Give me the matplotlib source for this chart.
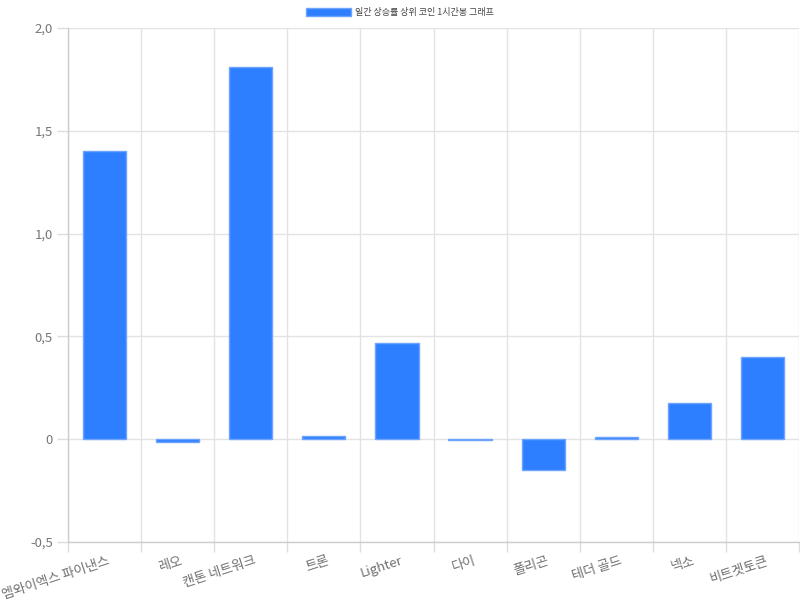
import matplotlib
matplotlib.use("Agg")
import matplotlib.pyplot as plt
from matplotlib.ticker import FuncFormatter, FixedLocator
import matplotlib.transforms as mtrans
import numpy as np

plt.rcParams['font.family'] = ['Noto Sans CJK KR', 'DejaVu Sans']

categories = ["엠와이엑스 파이낸스", "레오", "캔톤 네트워크", "트론", "Lighter",
              "다이", "폴리곤", "테더 골드", "넥소", "비트겟토큰"]
values = [1.40, -0.015, 1.81, 0.015, 0.47, -0.005, -0.15, 0.01, 0.175, 0.40]
legend_label = "일간 상승률 상위 코인 1시간봉 그래프"
y_ticks = [-0.5, 0, 0.5, 1.0, 1.5, 2.0]

fig = plt.figure(figsize=(8, 6), dpi=100)
ax = fig.add_axes([68/800, 58/600, 731/800, 514/600])

x = np.arange(len(categories))
bars = ax.bar(x, values, width=0.59, color="#2d7fff", edgecolor="#6ea3ff",
              linewidth=1.0, label=legend_label, zorder=3)

ax.set_xlim(-0.5, len(categories) - 0.5)
ax.set_ylim(-0.5, 2.0)

ax.yaxis.set_major_locator(FixedLocator(y_ticks))
def fmt(v, pos):
    if abs(v) < 1e-9:
        return "0"
    return f"{v:.1f}".replace(".", ",")
ax.yaxis.set_major_formatter(FuncFormatter(fmt))

bounds = np.arange(-0.5, len(categories), 1.0)
ax.xaxis.set_minor_locator(FixedLocator(bounds))
ax.set_xticks(x)
ax.set_xticklabels(categories, rotation=18, ha="right", va="top",
                   rotation_mode="anchor", fontweight="light")
ax.tick_params(axis="x", which="major", length=0, pad=9, labelsize=9.5,
               labelcolor="#707070")
ax.tick_params(axis="x", which="minor", length=7, color="#dddddd", width=1)
ax.tick_params(axis="y", length=8, color="#dddddd", width=1, labelsize=9.5,
               labelcolor="#777777", pad=3)
for lab in ax.get_yticklabels():
    lab.set_fontweight("light")

ax.grid(True, which="minor", axis="x", color="#e3e3e3", linewidth=1, zorder=0)
ax.grid(True, which="major", axis="y", color="#e3e3e3", linewidth=1, zorder=0)
ax.grid(False, which="major", axis="x")

for s in ["top", "right"]:
    ax.spines[s].set_visible(False)
for s in ["left", "bottom"]:
    ax.spines[s].set_color("#cccccc")
    ax.spines[s].set_linewidth(1)

offset = mtrans.ScaledTranslation(3/100, 0, fig.dpi_scale_trans)
for lab in ax.get_xticklabels():
    lab.set_transform(lab.get_transform() + offset)

leg = fig.legend(handles=[bars], labels=[legend_label], loc="upper center",
                 bbox_to_anchor=(0.5, 1.0), frameon=False, fontsize=6.5,
                 handlelength=5.0, handleheight=0.9, handletextpad=0.5,
                 labelcolor="#444444")

fig.savefig("out.png", dpi=100)
